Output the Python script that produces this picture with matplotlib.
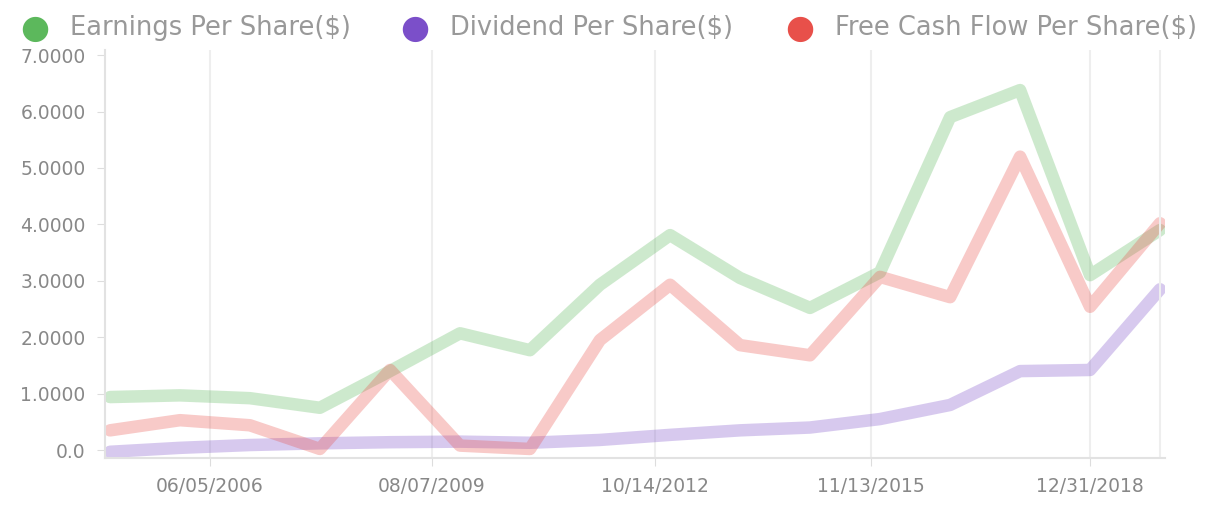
import matplotlib
matplotlib.use("Agg")
import matplotlib.pyplot as plt
import pandas as pd

# year-end reporting dates
dates = pd.to_datetime([f"{y}-12-31" for y in range(2004, 2020)])
eps = [0.94, 0.97, 0.92, 0.75, 1.40, 2.07, 1.77, 2.93, 3.81, 3.05, 2.52, 3.15, 5.90, 6.38, 3.10, 3.90]
dps = [-0.03, 0.04, 0.09, 0.12, 0.14, 0.15, 0.13, 0.18, 0.27, 0.35, 0.40, 0.55, 0.80, 1.40, 1.42, 2.85]
fcf = [0.35, 0.53, 0.44, 0.02, 1.42, 0.08, 0.02, 1.95, 2.93, 1.86, 1.68, 3.07, 2.71, 5.20, 2.54, 4.02]
tick_dates = pd.to_datetime(["2006-06-05", "2009-08-07", "2012-10-14", "2015-11-13", "2018-12-31"])
yticks = [0, 1, 2, 3, 4, 5, 6, 7]

names = ["Earnings Per Share($)", "Dividend Per Share($)", "Free Cash Flow Per Share($)"]
dark = ["#5cb85c", "#7b4fc9", "#e8504a"]

fig = plt.figure(figsize=(12.18, 5.05), dpi=100)
ax = fig.add_axes([105 / 1218, 1 - 458 / 505, 1060 / 1218, 408 / 505])

for vals, c in zip([eps, dps, fcf], dark):
    ax.plot(dates, vals, color=c, lw=9, alpha=0.3, solid_joinstyle="round",
            solid_capstyle="round")

ax.set_ylim(-0.14, 7.09)
ax.set_xlim(dates[0] - pd.Timedelta(days=26), dates[-1] + pd.Timedelta(days=26))
ax.set_yticks(yticks)
ax.set_yticklabels(["0.0" if v == 0 else f"{v:.4f}" for v in yticks])
ax.set_xticks(tick_dates)
ax.set_xticklabels([d.strftime("%m/%d/%Y") for d in tick_dates])
ax.tick_params(axis="both", colors="#dddddd", labelcolor="#888888", labelsize=13.5, length=6, pad=8)
ax.grid(axis="x", color="#eeeeee", lw=1.5)
ax.axvline(dates[-1], color="#eeeeee", lw=1.5)
for s in ["top", "right"]:
    ax.spines[s].set_visible(False)
ax.spines["left"].set_color("#e2e2e2")
ax.spines["bottom"].set_color("#e2e2e2")
ax.spines["left"].set_linewidth(1.5)
ax.spines["bottom"].set_linewidth(1.5)

# legend across the top
lx = [35, 415, 800]
for x, n, c in zip(lx, names, dark):
    fig.text(x / 1218, 1 - 28 / 505, "\u25cf", color=c, fontsize=24, ha="center", va="center")
    fig.text((x + 35) / 1218, 1 - 28 / 505, n, color="#999999", fontsize=18.5, ha="left", va="center")

fig.savefig("out.png", dpi=100)
